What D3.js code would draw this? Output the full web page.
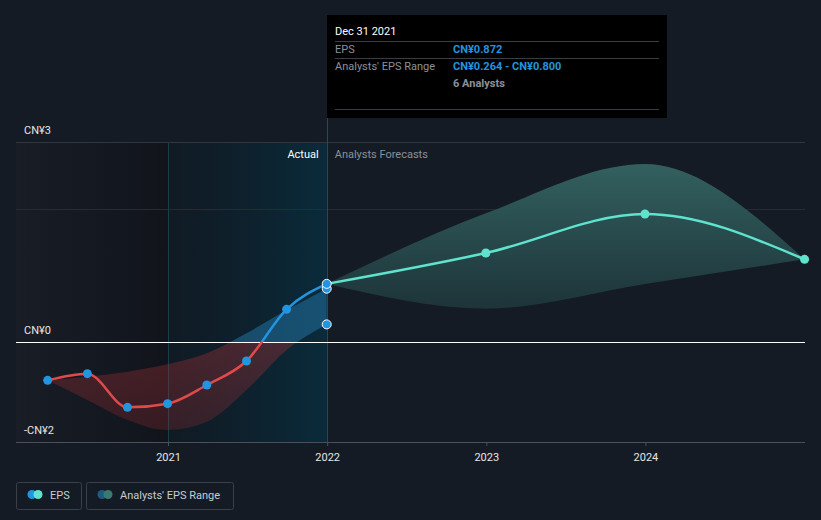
<!DOCTYPE html>
<html><head><meta charset="utf-8">
<script src="https://cdn.jsdelivr.net/npm/d3@7"></script>
<style>
html,body{margin:0;padding:0;background:#151b24;}
svg{display:block;font-family:Roboto,"Noto Sans",sans-serif;}
</style></head>
<body><svg id="c" width="821" height="520"></svg>
<script>
// ---- data ----
const pastDates = ["2020-03-31","2020-06-30","2020-09-30","2020-12-31","2021-03-31","2021-06-30","2021-09-30","2021-12-31"];
const pastEPS   = [-0.575,-0.475,-0.98,-0.925,-0.645,-0.285,0.49,0.872];
const pastHigh  = [-0.575,-0.52,-0.445,-0.335,-0.17,0.13,0.48,0.80];
const pastLow   = [-0.575,-0.87,-1.17,-1.32,-1.195,-0.72,-0.12,0.264];
const fcDates   = ["2021-12-31","2022-12-31","2023-12-31","2024-12-31"];
const fcEPS     = [0.872,1.335,1.92,1.24];
const fcHigh    = [0.872,1.93,2.67,1.24];
const fcLow     = [0.872,0.50,0.87,1.24];
const yTickVals   = [3,0,-1.5];
const yTickLabels = ["CN¥3","CN¥0","-CN¥2"];
const xTickYears  = [2021,2022,2023,2024];
const tooltip = {date:"Dec 31 2021", eps:"CN¥0.872", range:"CN¥0.264 - CN¥0.800", analysts:"6 Analysts"};

const parse = d3.timeParse("%Y-%m-%d");
const past = pastDates.map((d,i)=>({d:parse(d),v:pastEPS[i],hi:pastHigh[i],lo:pastLow[i]}));
const fc = fcDates.map((d,i)=>({d:parse(d),v:fcEPS[i],hi:fcHigh[i],lo:fcLow[i]}));

const svg = d3.select("#c");
const x = d3.scaleTime().domain([new Date(2021,0,1), new Date(2025,0,1)]).range([168,805]);
const y = d3.scaleLinear().domain([-1.5,3]).range([442,142]);
const L=16, R=805, T=142, B=442;
const nowX = x(parse("2021-12-31"));
const startPast = x(new Date(2021,0,1));
const crisp = v => Math.round(v)+0.5;

const defs = svg.append("defs");
const g1 = defs.append("linearGradient").attr("id","leftShade");
g1.append("stop").attr("offset","0").attr("stop-color","#181d26");
g1.append("stop").attr("offset","1").attr("stop-color","#11141b");
const g2 = defs.append("linearGradient").attr("id","pastShade");
g2.append("stop").attr("offset","0").attr("stop-color","#0d1a24").attr("stop-opacity",0.6);
g2.append("stop").attr("offset","1").attr("stop-color","#0a2b3b").attr("stop-opacity",1);
const g3 = defs.append("linearGradient").attr("id","fcBand").attr("x1",0).attr("y1",0).attr("x2",0).attr("y2",1);
g3.append("stop").attr("offset","0").attr("stop-color","#33605f");
g3.append("stop").attr("offset","1").attr("stop-color","#1d3439");
const g4 = defs.append("linearGradient").attr("id","redBand").attr("x1",0).attr("y1",0).attr("x2",0).attr("y2",1);
g4.append("stop").attr("offset","0").attr("stop-color","#b2343a").attr("stop-opacity",0.45);
g4.append("stop").attr("offset","1").attr("stop-color","#8a2a30").attr("stop-opacity",0.3);

defs.append("clipPath").attr("id","above").append("rect").attr("x",0).attr("y",0).attr("width",821).attr("height",y(0));
defs.append("clipPath").attr("id","below").append("rect").attr("x",0).attr("y",y(0)).attr("width",821).attr("height",520-y(0));

// shaded regions
svg.append("rect").attr("x",L).attr("y",T).attr("width",startPast-L).attr("height",B-T).attr("fill","url(#leftShade)");
svg.append("rect").attr("x",startPast).attr("y",T).attr("width",nowX-startPast).attr("height",B-T).attr("fill","url(#pastShade)");

// gridlines
svg.append("line").attr("x1",L).attr("x2",R).attr("y1",crisp(y(3))).attr("y2",crisp(y(3))).attr("stroke","#30353e");
svg.append("line").attr("x1",L).attr("x2",R).attr("y1",crisp(y(2))).attr("y2",crisp(y(2))).attr("stroke","#262b34");
svg.append("line").attr("x1",crisp(startPast)).attr("x2",crisp(startPast)).attr("y1",T).attr("y2",B).attr("stroke","#17404f");
svg.append("line").attr("x1",crisp(nowX)).attr("x2",crisp(nowX)).attr("y1",118).attr("y2",B).attr("stroke","#23495a");

// bands
const area = d3.area().x(d=>x(d.d)).y0(d=>y(d.lo)).y1(d=>y(d.hi)).curve(d3.curveMonotoneX);
svg.append("path").datum(fc).attr("d",area).attr("fill","url(#fcBand)");
svg.append("path").datum(past).attr("d",area).attr("fill","url(#redBand)").attr("clip-path","url(#below)");
svg.append("path").datum(past).attr("d",area).attr("fill","#1f6a98").attr("fill-opacity",0.6).attr("clip-path","url(#above)");

// zero line & axis
svg.append("line").attr("x1",L).attr("x2",R).attr("y1",crisp(y(0))).attr("y2",crisp(y(0))).attr("stroke","#ffffff").attr("stroke-width",1);
const xAxis = d3.axisBottom(x).tickValues(xTickYears.map(yr=>new Date(yr,0,1))).tickFormat(d3.timeFormat("%Y")).tickSize(4).tickSizeOuter(0);
const ax = svg.append("g").attr("transform",`translate(0,${B})`).call(xAxis);
ax.select(".domain").remove();
ax.selectAll(".tick line").attr("stroke","#4a4f58");
ax.selectAll(".tick text").attr("fill","#e6e6e6").attr("font-size",11).attr("dy","1.05em").attr("font-family","Roboto,sans-serif");
svg.append("line").attr("x1",L).attr("x2",R).attr("y1",crisp(B)).attr("y2",crisp(B)).attr("stroke","#4a4f58");

// y labels
svg.selectAll(".ylab").data(yTickVals).enter().append("text")
  .attr("x",24).attr("y",d=>y(d)-8).attr("fill","#e6e6e6").attr("font-size",11)
  .text((d,i)=>yTickLabels[i]);

// lines
const line = d3.line().x(d=>x(d.d)).y(d=>y(d.v)).curve(d3.curveMonotoneX);
svg.append("path").datum(fc).attr("d",line).attr("fill","none").attr("stroke","#5fe3cf").attr("stroke-width",2.5);
svg.append("path").datum(past).attr("d",line).attr("fill","none").attr("stroke","#e04a4a").attr("stroke-width",2.5).attr("clip-path","url(#below)");
svg.append("path").datum(past).attr("d",line).attr("fill","none").attr("stroke","#2394df").attr("stroke-width",2.5).attr("clip-path","url(#above)");

// markers
svg.selectAll(".fcp").data(fc.slice(1)).enter().append("circle")
  .attr("cx",d=>x(d.d)).attr("cy",d=>y(d.v)).attr("r",4.5).attr("fill","#5fe3cf");
svg.selectAll(".pp").data(past.slice(0,-1)).enter().append("circle")
  .attr("cx",d=>x(d.d)).attr("cy",d=>y(d.v)).attr("r",4.5).attr("fill","#2394df");
const last = past[past.length-1];
[last.lo,last.hi,last.v].forEach(v=>{
  svg.append("circle").attr("cx",x(last.d)).attr("cy",y(v)).attr("r",4.5).attr("fill","#2394df").attr("stroke","#ffffff").attr("stroke-width",1);
});

// Actual / Forecasts labels
svg.append("text").attr("x",nowX-8).attr("y",158).attr("text-anchor","end").attr("fill","#ffffff").attr("font-size",11).text("Actual");
svg.append("text").attr("x",nowX+8).attr("y",158).attr("fill","#8b9099").attr("font-size",11).text("Analysts Forecasts");

// tooltip
const tt = svg.append("g");
tt.append("rect").attr("x",327).attr("y",15).attr("width",340).attr("height",103).attr("fill","#000000");
tt.append("text").attr("x",335).attr("y",35).attr("fill","#ffffff").attr("font-size",11).text(tooltip.date);
[41,58,109].forEach(yy=>tt.append("line").attr("x1",335).attr("x2",659).attr("y1",yy+0.5).attr("y2",yy+0.5).attr("stroke","#3a3d42"));
tt.append("text").attr("x",335).attr("y",53).attr("fill","#8b9099").attr("font-size",11).text("EPS");
tt.append("text").attr("x",453).attr("y",53).attr("fill","#2394df").attr("font-size",11).attr("font-weight","bold").text(tooltip.eps);
tt.append("text").attr("x",335).attr("y",70).attr("fill","#8b9099").attr("font-size",11).text("Analysts' EPS Range");
tt.append("text").attr("x",453).attr("y",70).attr("fill","#2394df").attr("font-size",11).attr("font-weight","bold").text(tooltip.range);
tt.append("text").attr("x",453).attr("y",87).attr("fill","#8b9099").attr("font-size",11).attr("font-weight","bold").text(tooltip.analysts);

// legend
const lg = svg.append("g");
lg.append("rect").attr("x",16.5).attr("y",482.5).attr("width",65).attr("height",27).attr("rx",2).attr("fill","none").attr("stroke","#3a3f48");
lg.append("circle").attr("cx",32).attr("cy",494.5).attr("r",4.5).attr("fill","#2394df");
lg.append("circle").attr("cx",38).attr("cy",494.5).attr("r",4.5).attr("fill","#5fe3cf");
lg.append("text").attr("x",50).attr("y",498.5).attr("fill","#c8cbd0").attr("font-size",11).text("EPS");
lg.append("rect").attr("x",86.5).attr("y",482.5).attr("width",147).attr("height",27).attr("rx",2).attr("fill","none").attr("stroke","#3a3f48");
lg.append("circle").attr("cx",102).attr("cy",494.5).attr("r",4.5).attr("fill","#1f5a80");
lg.append("circle").attr("cx",108).attr("cy",494.5).attr("r",4.5).attr("fill","#3a7a72");
lg.append("text").attr("x",120).attr("y",498.5).attr("fill","#c8cbd0").attr("font-size",11).text("Analysts' EPS Range");
</script></body></html>
